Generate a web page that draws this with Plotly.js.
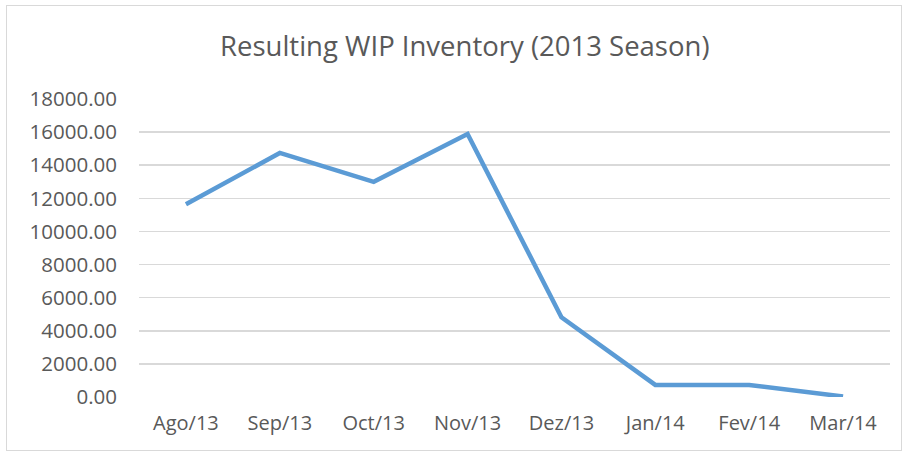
<!DOCTYPE html>
<html>
<head>
<meta charset="utf-8">
<script src="https://cdn.plot.ly/plotly-3.0.1.min.js"></script>
<style>
html,body{margin:0;padding:0;background:#fff;}
#wrap{position:relative;width:906px;height:455px;}
#frame{position:absolute;left:6px;top:5px;width:896px;height:446px;border:1px solid #d9d9d9;box-sizing:border-box;pointer-events:none;}
#chart{position:absolute;left:0;top:0;width:906px;height:455px;}
</style>
</head>
<body>
<div id="wrap"><div id="chart"></div><div id="frame"></div></div>
<script>
const months = ["Ago/13","Sep/13","Oct/13","Nov/13","Dez/13","Jan/14","Fev/14","Mar/14"];
const wipInventory = [11640, 14740, 13000, 15890, 4820, 730, 730, 30];
const yTicks = [0,2000,4000,6000,8000,10000,12000,14000,16000,18000];

const font = "'Open Sans', 'Liberation Sans', sans-serif";
Plotly.newPlot("chart", [{
  x: months, y: wipInventory, type: "scatter", mode: "lines",
  line: {color: "#5B9BD5", width: 4.5}, hoverinfo: "skip"
}], {
  width: 906, height: 455,
  margin: {l: 139, r: 16, t: 99, b: 58},
  paper_bgcolor: "rgba(0,0,0,0)", plot_bgcolor: "#fff",
  title: {text: "Resulting WIP Inventory (2013 Season)", x: 0.513, xanchor: "center", y: 0.897, yanchor: "middle",
          font: {family: font, size: 27.5, color: "#595959"}},
  xaxis: {type: "category", range: [-0.5, 7.5], showgrid: false, zeroline: false, showline: false, ticks: "",
          tickfont: {family: font, size: 20, color: "#595959"}, ticklabelstandoff: 12},
  yaxis: {range: [0, 18000], tickvals: yTicks, ticktext: yTicks.map(v => v.toFixed(2)),
          showgrid: true, gridcolor: "#d9d9d9", gridwidth: 1.5, zeroline: false, showline: false, ticks: "",
          tickfont: {family: font, size: 20.5, color: "#595959"}, ticklabelstandoff: 21},
  showlegend: false
}, {displayModeBar: false, staticPlot: true});
</script>
</body>
</html>
